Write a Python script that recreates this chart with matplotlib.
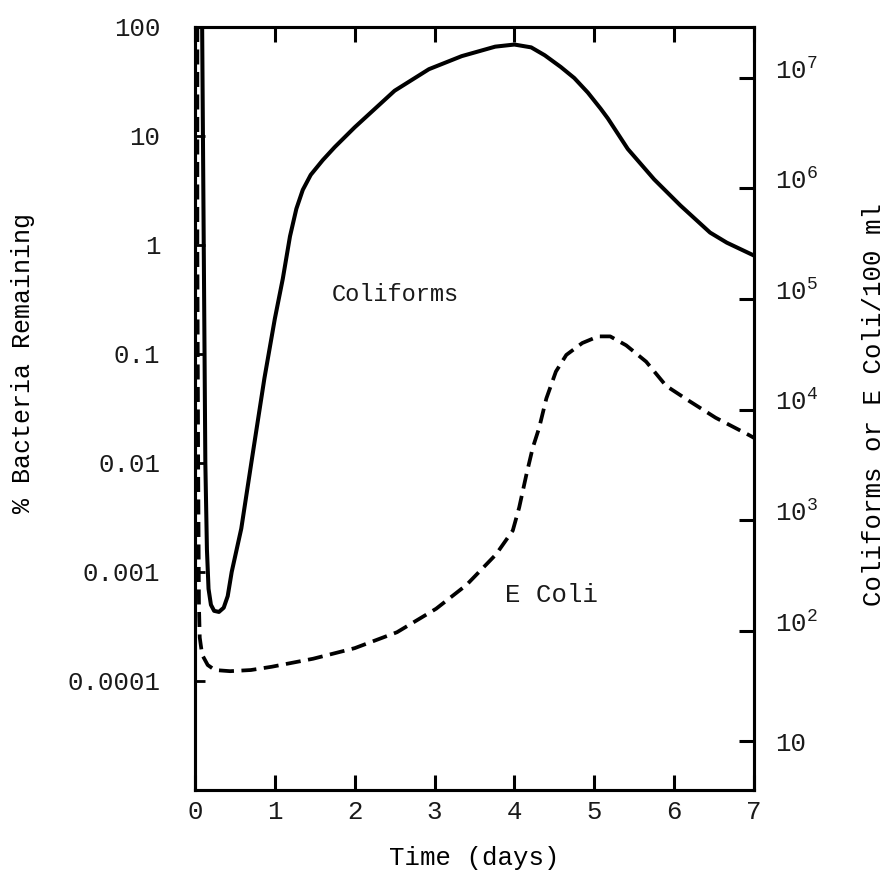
# 细菌存活曲线（双对数纵轴）

import matplotlib.pyplot as plt
from matplotlib.ticker import NullLocator
from matplotlib.transforms import ScaledTranslation

# 数据：时间（天）和剩余百分比
coliform_days = [0.09, 0.10, 0.11, 0.12, 0.13, 0.15, 0.17, 0.20, 0.24, 0.30, 0.36,
                 0.41, 0.46, 0.58, 0.71, 0.87, 1.00, 1.10, 1.19, 1.27, 1.35, 1.45,
                 1.60, 1.75, 2.00, 2.50, 2.93, 3.34, 3.76, 4.00, 4.21, 4.38, 4.58,
                 4.75, 4.92, 5.08, 5.17, 5.42, 5.75, 6.08, 6.45, 6.66, 7.00]
coliform_pct = [100, 10, 1, 0.1, 0.01, 0.0016, 0.0007, 0.0005, 0.00044, 0.00043,
                0.00047, 0.0006, 0.001, 0.0025, 0.0105, 0.06, 0.21, 0.49, 1.2, 2.15,
                3.2, 4.4, 6.0, 7.9, 12.0, 26, 41, 54, 66, 69, 65, 55, 43, 34, 25,
                17.8, 14.5, 7.6, 4.0, 2.3, 1.3, 1.05, 0.8]

ecoli_days = [0.03, 0.03, 0.04, 0.05, 0.06, 0.09, 0.16, 0.25, 0.44, 0.70, 0.96,
              1.48, 2.00, 2.53, 3.02, 3.40, 3.77, 3.98, 4.06, 4.15, 4.23, 4.31,
              4.40, 4.52, 4.65, 4.85, 5.05, 5.20, 5.40, 5.65, 5.90, 6.19, 6.52,
              6.94, 7.00]
ecoli_pct = [100, 1, 0.01, 0.0005, 0.00025, 0.000174, 0.00014, 0.000126, 0.000123,
             0.000126, 0.000135, 0.00016, 0.0002, 0.00028, 0.00046, 0.00076, 0.00145,
             0.0024, 0.0039, 0.0078, 0.0138, 0.021, 0.039, 0.069, 0.098, 0.126, 0.145,
             0.145, 0.12, 0.085, 0.051, 0.037, 0.026, 0.018, 0.017]

# 坐标轴刻度
day_ticks = [0, 1, 2, 3, 4, 5, 6, 7]
pct_ticks = [100, 10, 1, 0.1, 0.01, 0.001, 0.0001]
pct_labels = ["100", "10", "1", "0.1", "0.01", "0.001", "0.0001"]
count_ticks = [1e7, 1e6, 1e5, 1e4, 1e3, 1e2, 10]
count_labels = [r"$\mathregular{10^7}$", r"$\mathregular{10^6}$", r"$\mathregular{10^5}$",
                r"$\mathregular{10^4}$", r"$\mathregular{10^3}$", r"$\mathregular{10^2}$", "10"]

# 打字机风格字体
plt.rcParams["font.family"] = ["Liberation Mono", "DejaVu Sans Mono"]
plt.rcParams["mathtext.fontset"] = "custom"
plt.rcParams["mathtext.rm"] = "Liberation Mono"
plt.rcParams["text.color"] = "#1a1a1a"
plt.rcParams["xtick.labelcolor"] = "#1a1a1a"
plt.rcParams["ytick.labelcolor"] = "#1a1a1a"

fig = plt.figure(figsize=(8.89, 8.73), dpi=100)
ax = fig.add_axes([0.2193, 0.0951, 0.6288, 0.874])
ax.set_yscale("log")

# 画曲线
ax.plot(coliform_days, coliform_pct, color="black", lw=2.9,
        solid_joinstyle="round", solid_capstyle="round")
ax.plot(ecoli_days, ecoli_pct, color="black", lw=2.7, linestyle=(0, (4, 2)))

ax.set_xlim(0, 7)
ax.set_ylim(1e-5, 100)
ax.set_xticks(day_ticks)
ax.set_xticklabels([str(d) for d in day_ticks])
ax.set_yticks(pct_ticks)
ax.set_yticklabels(pct_labels)
ax.yaxis.set_minor_locator(NullLocator())
ax.tick_params(axis="x", direction="in", top=True, length=11, width=2.2,
               pad=7, labelsize=18.5)
ax.tick_params(axis="y", direction="in", right=False, length=7, width=2.0,
               pad=25, labelsize=18.5)
for s in ax.spines.values():
    s.set_linewidth(2.2)

ax.set_xlabel("Time (days)", fontsize=18.5, labelpad=16)
ax.set_ylabel("% Bacteria Remaining", fontsize=18)
ax.yaxis.set_label_coords(-0.286, 0.56)

# 曲线名称
ax.text(2.51, 0.355, "Coliforms", fontsize=17, ha="center", va="center")
ax.text(4.46, 0.00061, "E Coli", fontsize=18.5, ha="center", va="center")

# 右侧纵轴：每100毫升菌数
ax2 = ax.twinx()
ax2.set_yscale("log")
ax2.set_ylim(10 ** 0.56, 10 ** 7.46)
ax2.set_yticks(count_ticks)
ax2.set_yticklabels(count_labels)
ax2.yaxis.set_minor_locator(NullLocator())
ax2.tick_params(axis="y", direction="in", length=11, width=2.2, pad=15, labelsize=18.5)
for s in ax2.spines.values():
    s.set_linewidth(2.2)
# 带上标的标签稍微往上挪一点
for lab in ax2.get_yticklabels()[:-1]:
    lab.set_transform(lab.get_transform() + ScaledTranslation(0, 7 / 72, fig.dpi_scale_trans))
ax2.set_ylabel("Coliforms or E Coli/100 ml", fontsize=18.5)
ax2.yaxis.set_label_coords(1.193, 0.505)

plt.savefig("out.png", dpi=100)
plt.close()
